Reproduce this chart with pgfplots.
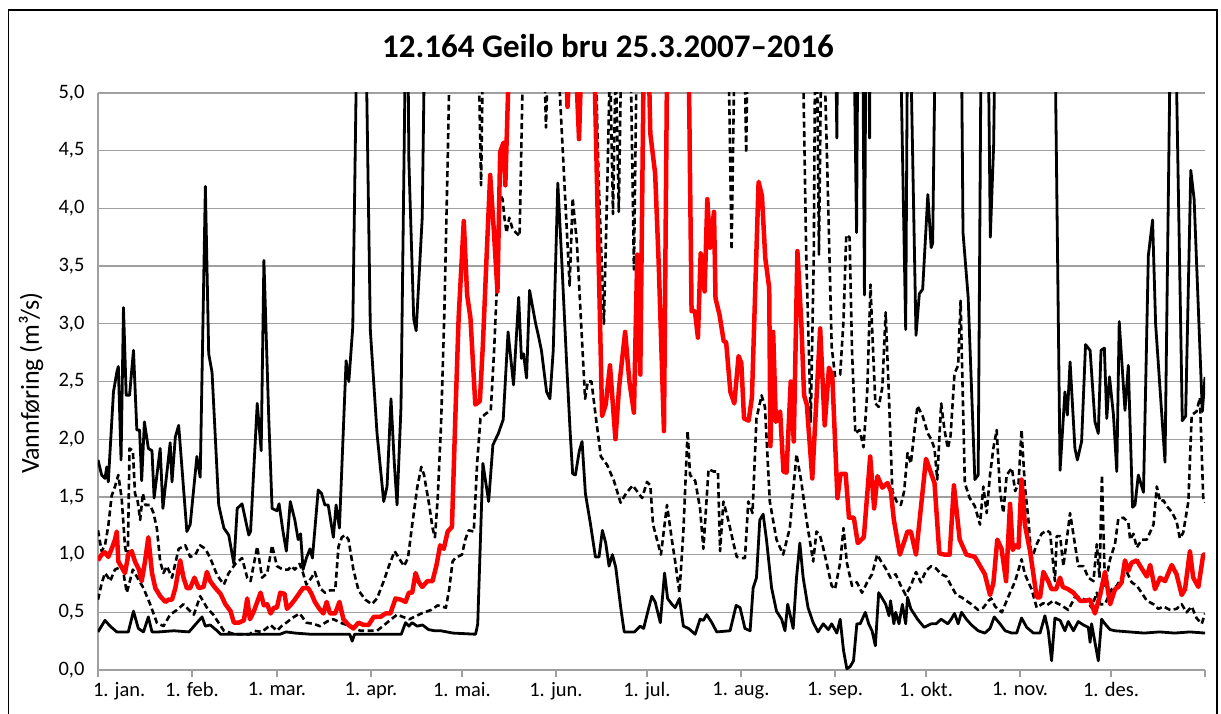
\documentclass[border=0pt]{standalone}
\usepackage{fontspec}
\setmainfont{Carlito}
\usepackage{pgfplots}
\pgfplotsset{compat=1.18}
\definecolor{gridgray}{RGB}{160,160,160}
\begin{document}
\begin{tikzpicture}[x=1pt,y=1pt]
\useasboundingbox (0,0) rectangle (1221,713);
\draw[black, line width=1.5pt] (8.5,-2) -- (8.5,703) -- (1217,703) -- (1217,-2);
\node[font=\bfseries\fontsize{33}{38}\selectfont] at (608,667) {12.164 Geilo bru 25.3.2007–2016};
\node[rotate=90, font=\fontsize{26}{30}\selectfont] at (31,330) {Vannføring (m³/s)};
\begin{axis}[
  at={(98pt,43pt)}, anchor=south west,
  scale only axis, width=1107pt, height=577pt,
  xmin=0, xmax=365, ymin=0, ymax=5,
  axis lines*=left,
  axis line style={gridgray, line width=1.3pt},
  xtick={0,31,59,90,120,151,181,212,243,273,304,334,365},
  xticklabels={{\makebox[0pt][l]{\hspace{-5pt}1. jan.}},1. feb.,1. mar.,1. apr.,1. mai.,1. jun.,1. jul.,1. aug.,1. sep.,1. okt.,1. nov.,1. des.,{}},
  ytick={0,0.5,1,1.5,2,2.5,3,3.5,4,4.5,5},
  /pgf/number format/assume math mode=true,
  yticklabel style={xshift=-3pt, /pgf/number format/.cd, fixed, fixed zerofill, precision=1, use comma},
  xticklabel style={yshift=-2pt},
  tick label style={font=\fontsize{20.5}{24}\selectfont},
  x tick style={gridgray, line width=1.3pt},
  y tick style={draw=none},
  tick align=outside, major tick length=7pt,
  ymajorgrids, major grid style={gridgray, line width=1.3pt},
  every axis plot/.append style={line join=round},
]
% max
\addplot[black, line width=2.8pt] coordinates {
(0,1.82)(1.2,1.69)(2.3,1.66)(2.9,1.76)(3.4,1.63)(5.1,2.41)(6.2,2.58)(6.7,2.63)(7.6,1.82)(8.4,3.14)(9.3,2.38)(10.4,2.38)(11.7,2.77)(12.8,2.08)(13.7,2.08)(14.4,1.64)(15.3,2.15)(16.6,1.92)(17.8,1.90)(18.5,1.49)(20.5,1.92)(21.4,1.40)(23.8,1.97)(24.4,1.63)(25.5,2.02)(26.6,2.12)(29.3,1.20)(30.4,1.26)(32.6,1.85)(33.7,1.67)(35.4,4.19)(36.5,2.74)(37.6,2.58)(39.8,1.43)(41.5,1.23)(43.1,1.17)(44.8,0.92)(45.9,1.40)(47.5,1.44)(49.7,1.17)(50.3,1.20)(52.5,2.31)(53.8,1.90)(54.7,3.55)(56.3,2.18)(57.4,1.40)(59,1.38)(59.7,1.44)(61,1.20)(62.1,1.03)(63.4,1.46)(64.9,1.30)(66,1.13)(66.8,1.18)(67.6,0.87)(68.7,0.97)(69.9,1.05)(70.7,0.97)(72.6,1.56)(73.7,1.53)(74.8,1.43)(75.9,1.43)(77.6,1.15)(78.5,1.43)(79.6,1.23)(81.8,2.68)(82.7,2.50)(84,2.97)(85.4,5.6)(86.5,7)(87.5,6)(88.5,5.2)(89.8,2.94)(92,2.05)(94.2,1.46)(95.3,1.59)(96.6,2.35)(97.7,1.79)(98.6,1.43)(99.9,2.28)(101.4,5.5)(102,6)(102.5,4.41)(104.1,3.04)(104.9,2.94)(106.9,3.92)(107.7,5.5)(110,8)(150,8)(200,8)(242.5,7)(243.6,4.61)(244.3,7)(248.5,7)(250.1,3.79)(250.9,7)(251.8,7)(252.7,3.25)(253.5,7)(254,6)(254.4,4.61)(254.9,7)(263.5,7)(266.3,2.95)(267,6)(267.5,6)(269.7,2.9)(270.8,3.26)(271.9,3.3)(273.6,4.12)(274.7,3.66)(275.2,3.7)(276.3,6)(284.5,6)(285.2,3.79)(286.9,3.23)(289.1,1.65)(290.2,1.69)(291.3,6)(293.3,6)(294.2,3.75)(295.3,4.55)(296,6)(315.3,6)(317.2,1.73)(318.8,2.41)(319.6,2.21)(320.5,2.67)(322.1,1.92)(322.9,1.82)(324.3,1.98)(325.6,2.82)(327.1,2.77)(328.7,2.15)(329.8,2.05)(330.7,2.77)(331.8,2.79)(332.6,2.18)(333.5,2.54)(334.8,2.21)(335.9,1.72)(336.7,3.02)(338.6,2.25)(339.7,2.64)(341.1,1.41)(341.9,1.43)(343,1.69)(344.7,1.54)(346.3,3.59)(347.7,3.9)(348.7,3.0)(351.8,1.8)(353.8,6)(355,6)(357.5,2.16)(358.6,2.2)(360.3,4.33)(361.4,4.08)(364.1,2.24)(365,2.54)
};
% min
\addplot[black, line width=2.8pt] coordinates {
(0,0.33)(2.3,0.43)(4,0.38)(6.2,0.33)(10,0.33)(11.7,0.51)(13.3,0.36)(15,0.33)(16.6,0.46)(17.8,0.33)(20,0.33)(25,0.34)(30,0.33)(34.3,0.46)(35.4,0.38)(37,0.39)(39.3,0.34)(40.4,0.31)(60,0.31)(62,0.33)(65,0.32)(70,0.31)(83,0.31)(83.8,0.25)(84.6,0.31)(100,0.31)(101.4,0.41)(102.5,0.38)(103.6,0.41)(105.2,0.38)(107,0.39)(109,0.35)(111,0.34)(113,0.34)(115,0.33)(117,0.32)(124.5,0.31)(125.2,0.4)(126.9,1.79)(128.8,1.46)(130.2,1.95)(132,2.05)(133.6,2.17)(135.2,2.93)(137,2.47)(138.7,3.23)(139.6,2.7)(140.3,2.74)(141.3,2.53)(142.3,3.29)(144.3,3.0)(145.1,2.91)(146.2,2.77)(147.9,2.41)(149,2.35)(150.1,2.77)(151.6,4.22)(152.9,3.55)(154.6,2.61)(155.7,2.05)(156.5,1.7)(157.4,1.69)(158.7,1.9)(159.6,1.98)(160.7,1.53)(162.4,1.26)(164,0.98)(165.2,0.98)(166.3,1.21)(167.4,1.10)(168.5,0.90)(169.6,1.0)(170.7,0.89)(172.4,0.53)(173.5,0.33)(176.9,0.33)(178.8,0.38)(179.9,0.36)(181.5,0.53)(182.6,0.64)(183.7,0.59)(185.4,0.41)(186.8,0.84)(187.8,0.62)(189.2,0.57)(190.3,0.54)(191.7,0.62)(193,0.38)(194.7,0.36)(196.9,0.31)(198.5,0.44)(199.6,0.43)(200.7,0.48)(202.4,0.41)(204,0.33)(208.4,0.34)(210.4,0.56)(211.7,0.54)(213.3,0.36)(215,0.34)(216,0.71)(217.1,0.80)(218.2,1.3)(219.3,1.35)(220.4,1.13)(222.1,0.71)(223.7,0.51)(225.4,0.44)(226.5,0.34)(227.4,0.57)(228.1,0.49)(229.2,0.36)(230.3,0.8)(231.4,1.1)(232.5,0.8)(234.1,0.54)(235.8,0.41)(237.4,0.33)(239.1,0.40)(240.8,0.35)(241.9,0.40)(243.6,0.32)(244.7,0.44)(245.8,0.17)(246.9,0.01)(248,0.03)(249.1,0.08)(250.2,0.4)(251.3,0.4)(253,0.5)(254.1,0.4)(255.2,0.34)(256.3,0.21)(257.4,0.67)(258.6,0.62)(259.7,0.57)(260.8,0.47)(261.3,0.6)(262.4,0.40)(263,0.5)(264.1,0.4)(265.2,0.57)(266.3,0.4)(266.9,0.63)(268,0.53)(270.2,0.44)(272.4,0.37)(274.7,0.4)(276.3,0.4)(278,0.44)(280.2,0.4)(281.3,0.44)(282.4,0.49)(283.6,0.4)(284.7,0.5)(286.3,0.44)(288,0.39)(290.2,0.34)(292.4,0.32)(294.1,0.36)(295.5,0.46)(297.4,0.4)(299.1,0.34)(301.3,0.32)(302.9,0.32)(304.5,0.45)(306.2,0.37)(308.4,0.32)(310.6,0.32)(312.2,0.47)(313.3,0.34)(314.4,0.08)(315.5,0.45)(317.2,0.43)(318.8,0.34)(319.9,0.42)(321.6,0.34)(323.2,0.42)(324.9,0.39)(326.5,0.37)(327.1,0.24)(327.6,0.40)(328.7,0.24)(329.8,0.08)(330.9,0.44)(332,0.40)(333.7,0.35)(335.3,0.34)(340,0.33)(345,0.32)(350,0.33)(355,0.32)(360,0.33)(365,0.32)
};
% upper quartile
\addplot[black, line width=2.6pt, dash pattern=on 6pt off 3.5pt] coordinates {
(0,1.21)(1.2,1.03)(2.3,1.08)(3.4,1.25)(4.5,1.51)(5.6,1.59)(6.7,1.69)(7.8,1.49)(8.9,1.07)(9.8,0.95)(10.4,1.92)(11.5,1.90)(12.2,1.53)(13.1,1.46)(13.9,1.30)(14.8,1.53)(15.6,1.43)(17.2,1.43)(18.3,1.36)(19.4,1.23)(20.5,0.94)(21.6,0.84)(22.7,0.90)(24.4,0.80)(26.6,1.05)(28.8,1.08)(30.4,0.98)(32.1,1.00)(33.7,1.08)(35.4,1.05)(37,0.97)(39.3,0.82)(41.5,0.74)(43.1,0.84)(45.3,0.92)(47.5,0.97)(49.2,0.80)(50.3,0.77)(52.5,1.07)(54.1,0.80)(55.8,0.84)(57.4,1.08)(59,0.90)(61,0.87)(62.7,0.87)(63.8,0.90)(64.9,0.87)(66.5,0.92)(67.6,0.84)(68.7,0.74)(70.4,0.80)(71.5,0.85)(73.2,0.71)(74.8,0.67)(76.5,0.69)(78.2,0.69)(79.3,1.07)(80.4,1.15)(81.5,1.17)(82.6,1.13)(84.2,0.87)(85.9,0.69)(88.1,0.61)(90.3,0.57)(92,0.62)(94.2,0.77)(95.9,0.90)(97.8,1.03)(99.2,0.97)(100.9,0.90)(102.2,0.97)(103.6,1.26)(105.3,1.59)(106.6,1.76)(107.5,1.69)(109.2,1.43)(110.3,1.23)(111.1,1.15)(112,1.49)(113.1,2.12)(114.2,3.10)(115.3,4.42)(116.1,5.5)(117,7)(125,6)(126.3,4.2)(127.3,6)(146.5,6)(147.7,4.7)(149,6)(163.5,6)(165,4.3)(166.8,3.0)(168,4.3)(168.8,5.3)(169.8,3.95)(170.7,5.3)(171.7,3.97)(172.6,5.5)(175.5,5.5)(176.7,3.47)(177.7,5.5)(207.5,6)(208.9,3.64)(210.2,6)(212.8,6)(213.7,4.48)(214.5,6)(232,6)(233.5,3.6)(235,2.15)(236,3.6)(236.6,6)(237,5.5)(237.7,3.6)(238.5,5.5)(239.5,5.3)(240.5,4.3)(241.9,2.8)(243,2.55)(244.7,2.56)(245.8,3.03)(246.7,3.77)(247.8,3.75)(248.6,2.77)(249.7,2.05)(251.1,2.08)(252.4,1.93)(253.6,2.4)(254.7,3.34)(255.2,2.98)(256.3,2.31)(257.4,2.28)(258.6,2.45)(259.7,3.1)(260.8,2.35)(261.9,1.55)(263.3,1.46)(264.7,1.43)(265.8,1.55)(266.9,1.88)(268,1.79)(269.1,2.05)(270.2,2.29)(271.9,2.2)(273.6,2.05)(274.7,2.0)(275.8,1.92)(276.7,1.65)(278,2.31)(279.1,2.08)(280.2,1.92)(281.1,2.03)(282.4,2.57)(283.6,2.64)(284.4,3.2)(285.8,1.62)(287.4,1.49)(289.1,1.42)(290.8,1.26)(291.9,1.59)(293,1.36)(294.1,1.69)(295.2,1.92)(296.3,2.08)(297.4,1.55)(298.5,1.36)(299.6,1.69)(301.3,1.75)(302.4,1.55)(303.5,1.62)(304.5,2.08)(305.6,1.59)(306.7,1.32)(307.8,0.96)(309.5,1.09)(311.1,1.18)(312.8,1.21)(313.9,1.19)(315.5,0.77)(316.1,1.16)(317.2,1.16)(318.3,0.9)(319.4,1.13)(320.5,1.36)(322.1,1.09)(323.2,0.9)(324.9,0.9)(326.5,0.8)(328.2,0.77)(329.3,1.09)(330.2,0.8)(331,1.69)(332,0.73)(333.7,0.96)(335.3,1.09)(336.4,1.31)(338.1,1.32)(339.7,1.28)(340.3,1.13)(341.4,1.18)(342.5,1.06)(344.1,1.13)(345.8,1.13)(348,1.26)(349.1,1.59)(350.2,1.46)(351.3,1.47)(352.4,1.42)(354,1.37)(355.6,1.29)(356.7,1.14)(357.8,1.19)(359.5,1.46)(360.6,2.21)(362.2,2.24)(363.3,2.36)(364.4,1.49)(365,1.45)
};
% lower quartile
\addplot[black, line width=2.6pt, dash pattern=on 6pt off 3.5pt] coordinates {
(0,0.61)(1.2,0.75)(2.3,0.84)(3.4,0.80)(4,0.77)(5.6,0.87)(8,0.90)(9.5,0.67)(11.5,0.87)(13,0.80)(15,0.71)(17.2,0.57)(19.4,0.41)(21.6,0.38)(23.8,0.48)(26,0.52)(28.2,0.57)(30,0.52)(31.6,0.48)(33.7,0.64)(35.9,0.54)(38,0.48)(41.5,0.34)(45,0.31)(50,0.31)(51.4,0.34)(54,0.33)(56.9,0.39)(59,0.34)(60.5,0.38)(62.1,0.41)(64,0.45)(66.5,0.49)(68.7,0.41)(71,0.40)(73.2,0.38)(75.5,0.42)(77.6,0.44)(79.9,0.41)(83.1,0.38)(86.5,0.34)(92,0.34)(95.3,0.41)(98.6,0.48)(100.5,0.46)(102.7,0.44)(106.6,0.49)(109.8,0.52)(112,0.56)(114.7,0.54)(115.8,0.7)(116.9,0.94)(117.8,0.97)(120,1.0)(121.1,1.13)(122.2,1.21)(123.9,1.20)(125,1.79)(126.1,2.18)(127.8,2.22)(129.5,2.25)(130.6,2.77)(131.7,3.43)(132.5,4.12)(133.4,4.08)(134,3.92)(134.7,3.79)(135.6,3.92)(136.7,3.82)(137.8,3.79)(139,3.76)(140.3,5.5)(141,7)(150,7)(151.3,5.5)(155.5,3.33)(156.5,4.09)(157.9,3.7)(159.5,2.9)(160.6,2.35)(161.5,2.5)(162.7,2.5)(164,2.22)(165.8,1.85)(167.8,1.78)(170.1,1.64)(172.3,1.45)(174.1,1.53)(176.3,1.60)(177.7,1.55)(179.4,1.49)(181,1.63)(182.1,1.60)(183,1.26)(184.3,1.13)(185.6,1.0)(187.6,1.43)(189.2,1.13)(190.3,0.94)(191.7,0.67)(193,1.2)(194.4,2.07)(195.2,1.69)(196.9,1.64)(198.5,1.40)(199.6,1.05)(201.3,1.74)(203,1.72)(204.4,1.72)(205.1,1.03)(206.2,1.46)(207.5,1.33)(208.4,1.23)(209.5,1.10)(210.6,0.98)(212.2,0.97)(213.3,0.97)(214.4,1.46)(215.8,1.36)(217.1,2.18)(218.8,2.38)(219.9,2.28)(221.5,1.46)(223.7,1.13)(225.9,1.0)(228.1,1.23)(230.3,1.87)(231.9,1.63)(233.6,1.3)(235.8,0.94)(236.9,1.2)(238,1.17)(239.1,1.06)(240.8,0.86)(241.9,0.73)(243,0.70)(244.7,0.93)(245.8,1.23)(246.9,0.93)(248.6,0.73)(250.2,0.76)(251.9,0.67)(253.6,0.76)(255.2,0.83)(256.9,1.0)(258,0.95)(259.7,0.88)(261.3,0.8)(263,0.83)(264.7,0.73)(266.3,0.65)(268,0.73)(269.7,0.85)(271.3,0.76)(273,0.86)(274.7,0.9)(276.3,0.88)(278,0.83)(279.7,0.81)(281.3,0.73)(283,0.65)(284.7,0.63)(286.3,0.60)(288,0.57)(290.2,0.52)(291.9,0.54)(293.6,0.6)(294.5,0.62)(295.8,0.55)(298,0.5)(300.7,0.67)(302.4,0.77)(304.5,0.96)(305.6,0.83)(307.8,0.7)(309.5,0.54)(311.7,0.58)(312.8,0.56)(314.9,0.6)(316.1,0.58)(317.7,0.56)(319.9,0.52)(322.1,0.63)(323.8,0.63)(326,0.6)(327.6,0.54)(329.3,0.67)(330.4,0.57)(332,0.57)(334.2,0.70)(335.9,0.73)(337.5,0.8)(339.2,0.85)(340.8,0.76)(342.5,0.73)(344.1,0.67)(345.8,0.6)(348,0.57)(349.6,0.53)(351.3,0.55)(353.5,0.52)(355.6,0.53)(357.3,0.57)(358.9,0.5)(360.6,0.55)(362.2,0.45)(363.9,0.4)(365,0.49)
};
% median
\addplot[red, line width=4.5pt] coordinates {
(0,0.95)(1.2,1.0)(2.3,1.02)(3.4,0.98)(4.5,1.05)(5.6,1.13)(6.2,1.2)(6.7,0.94)(7.8,0.89)(8.9,0.84)(10,1.0)(11.1,1.03)(12.2,0.94)(13.5,0.87)(14.4,0.77)(15.5,0.94)(16.6,1.15)(17.8,0.84)(18.9,0.71)(20.5,0.64)(22.2,0.59)(23.3,0.61)(24.4,0.61)(25.5,0.71)(27.1,0.95)(28.2,0.80)(29.3,0.71)(30.4,0.71)(31.8,0.80)(33.2,0.71)(34.8,0.72)(35.9,0.85)(37,0.77)(38.7,0.71)(40.4,0.66)(42,0.57)(43.7,0.51)(44.8,0.41)(46.4,0.41)(48.1,0.43)(49.2,0.62)(50.1,0.44)(51.4,0.51)(53.6,0.67)(54.7,0.56)(55.8,0.57)(56.9,0.49)(58,0.54)(59,0.54)(60.1,0.67)(61.5,0.66)(62.3,0.53)(63.4,0.56)(64.9,0.61)(66.5,0.67)(67.6,0.71)(69.3,0.71)(70.4,0.66)(71.5,0.59)(73,0.53)(74.3,0.49)(75.4,0.59)(76.5,0.49)(78.2,0.49)(79.6,0.59)(80.9,0.44)(82.6,0.39)(84.2,0.36)(85.9,0.41)(87.6,0.39)(89.2,0.39)(90.9,0.46)(93.1,0.46)(94.8,0.49)(96.4,0.49)(98.1,0.62)(99.8,0.61)(101.4,0.59)(102.5,0.67)(103.6,0.67)(104.7,0.84)(105.8,0.76)(106.9,0.72)(108.6,0.77)(110.3,0.77)(111.7,0.92)(112.8,1.08)(114,1.05)(115.3,1.2)(116.7,1.24)(117.8,2.18)(118.9,3.05)(120.6,3.89)(121.7,3.25)(122.8,3.05)(124.4,2.3)(125.9,2.33)(126.9,2.82)(128.2,3.63)(129.3,4.29)(130.6,3.77)(131.7,3.28)(132.6,4.49)(133.7,4.57)(134.3,4.2)(135.3,5.1)(136,6)(145,7)(152,6)(154,5.5)(154.8,4.88)(155.8,5.4)(157,5.6)(158.6,4.6)(159.6,5.5)(161,5.3)(162,5.05)(163,5.4)(163.7,5.2)(166.2,2.2)(167.4,2.3)(168.8,2.64)(170.6,2.0)(171.8,2.45)(173.8,2.93)(175.2,2.5)(176.7,2.23)(177.8,3.6)(178.8,2.56)(180,5.5)(181,6)(182.1,4.65)(183.7,4.3)(184.9,3.5)(186.6,2.07)(187.7,5.5)(188.5,7)(194,7)(194.8,5.2)(195.7,3.11)(196.8,3.11)(197.8,2.88)(198.7,3.61)(200,3.28)(200.9,4.08)(201.8,3.66)(203.1,3.97)(203.6,3.22)(204.9,3.08)(206.3,2.85)(207.1,2.84)(208.5,2.41)(209.8,2.31)(211.2,2.72)(212.1,2.66)(213,2.18)(214.5,2.16)(215.6,2.36)(216.7,3.3)(217.8,4.23)(218.9,4.11)(220,3.57)(221.3,3.31)(221.7,1.94)(222.6,2.93)(223.5,2.15)(224.9,2.24)(226,1.72)(227,1.71)(228.4,2.5)(229.4,1.98)(230.6,3.63)(231.9,3.0)(232.8,2.38)(233.7,2.3)(235.5,1.66)(238.1,2.96)(239.6,2.12)(241,2.62)(242.1,2.55)(243.8,1.49)(244.8,1.7)(246.5,1.7)(247.6,1.32)(249.2,1.32)(250.5,1.1)(252.5,1.15)(254.6,1.85)(255.9,1.4)(257,1.68)(258.6,1.58)(260.3,1.62)(261.4,1.55)(262.4,1.3)(264.4,1.0)(266.9,1.2)(268,1.2)(269.7,1.0)(273,1.83)(275.8,1.62)(277.4,1.01)(279.1,1.0)(280.8,1.0)(282.2,1.6)(284.1,1.13)(286.3,1.0)(289.1,0.98)(292.4,0.83)(294.1,0.65)(295.2,0.75)(296.5,1.13)(297.9,1.05)(299.4,0.77)(300.7,1.44)(301.6,1.04)(302.4,1.08)(303.5,1.06)(304.5,1.65)(305.6,1.26)(307.3,1.03)(309.5,0.63)(310.6,0.63)(311.7,0.85)(313.3,0.77)(314.4,0.70)(315.9,0.70)(317.2,0.80)(318.1,0.72)(319.9,0.70)(321.6,0.67)(323.8,0.60)(325.4,0.60)(327.1,0.61)(328.7,0.49)(330.4,0.65)(332,0.85)(333.7,0.57)(335.3,0.70)(336.4,0.72)(337.5,0.76)(338.6,0.95)(339.7,0.86)(340.8,0.93)(342.5,0.95)(344.1,0.88)(345.8,0.81)(346.9,0.91)(348.5,0.70)(350.2,0.80)(351.8,0.77)(354,0.91)(355.6,0.83)(357.3,0.65)(358.4,0.70)(360,1.03)(361.1,0.80)(362.8,0.72)(364.4,1.0)(365,1.0)
};
\end{axis}
\end{tikzpicture}
\end{document}
